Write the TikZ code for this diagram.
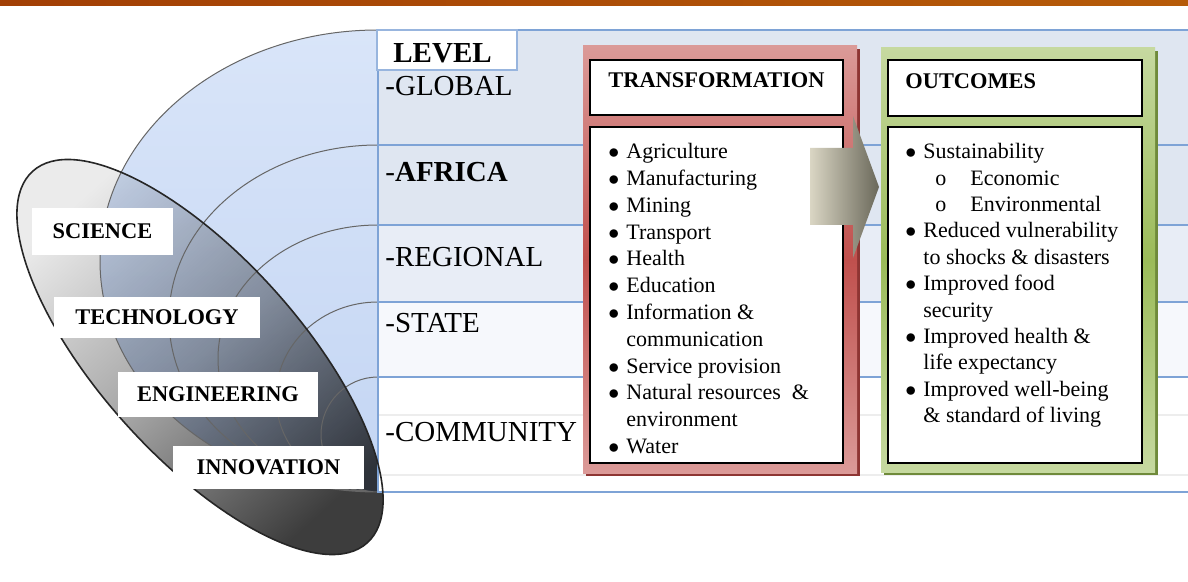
\documentclass[tikz,border=0pt]{standalone}
\usepackage{fontspec}
\setmainfont{Liberation Serif}
\definecolor{barl}{HTML}{A23F05}
\definecolor{barr}{HTML}{B65B08}
\definecolor{tblblue}{HTML}{7EA3D6}
\definecolor{rowa}{HTML}{DFE6F1}
\definecolor{rowb}{HTML}{E8EDF6}
\definecolor{rowc}{HTML}{F6F8FC}
\definecolor{fantop}{HTML}{D9E5F9}
\definecolor{fanbot}{HTML}{C3D5F3}
\definecolor{redl}{HTML}{DB9A98}
\definecolor{redd}{HTML}{C0504D}
\definecolor{redsh}{HTML}{8E3533}
\definecolor{grnl}{HTML}{C6D9A0}
\definecolor{grnd}{HTML}{9BBB59}
\definecolor{grnsh}{HTML}{6F8A3A}
\definecolor{arrl}{HTML}{DAD6C4}
\definecolor{arrd}{HTML}{6A685A}
\newcommand{\bul}{\makebox[9pt][l]{$\bullet$}}
\tikzset{
  tblline/.style={draw=tblblue, line width=0.8pt},
  arcline/.style={draw=black!60, line width=0.5pt},
  lvl/.style={anchor=base west, inner sep=0pt, font=\fontsize{14.5}{17}\selectfont},
  stemlabel/.style={fill=white, inner sep=0pt, font=\fontsize{11.2}{13}\selectfont\bfseries},
  inbox/.style={draw=black, fill=white, line width=0.6pt},
  boxtitle/.style={anchor=base west, inner sep=0pt, font=\fontsize{11.2}{13}\selectfont\bfseries},
  boxlist/.style={anchor=north west, inner sep=0pt, align=left, font=\fontsize{11}{13.4}\selectfont}
}
\begin{document}
\begin{tikzpicture}[x=0.5pt,y=-0.5pt]
\useasboundingbox (0,0) rectangle (1188,582);
\shade[left color=barl, right color=barr] (0,0) rectangle (1188,6);

\shade[top color=black!8, bottom color=black!76, middle color=black!36, shading angle=42, rotate around={-48:(200,357)}] (200,357) ellipse [x radius=250, y radius=100];

\begin{scope}[blend mode=multiply]
\shade[top color=fantop, bottom color=fanbot] (378,261) ellipse [x radius=278, y radius=231];
\end{scope}
\draw[arcline] (378,261) ellipse [x radius=278, y radius=231]
  (378,318.5) ellipse [x radius=209, y radius=173.5]
  (378,358.5) ellipse [x radius=160, y radius=133.5]
  (378,397) ellipse [x radius=102, y radius=95]
  (378,434.5) ellipse [x radius=57, y radius=57.5];

\fill[rowa] (378,30) rectangle (1188,225);
\fill[rowb] (378,225) rectangle (1188,302);
\fill[rowc] (378,302) rectangle (1188,377);
\fill[white] (378,377) rectangle (1188,492);
\draw[black!7, line width=0.6pt] (378,415) -- (1188,415) (378,475) -- (1188,475);
\draw[tblline] (1188,30) -- (378,30) -- (378,492) -- (1188,492);
\foreach \yy in {145,225,302,377}
  \draw[tblline] (378,\yy) -- (1188,\yy);

\draw[black!85, line width=0.8pt, rotate around={-48:(200,357)}] (200,357) ellipse [x radius=250, y radius=100];

\node[stemlabel, minimum width=70.5pt, minimum height=23.5pt] (science) at (102.5,231.5) {SCIENCE};
\node[stemlabel, minimum width=103pt, minimum height=20.5pt] (technology) at (157,317.5) {TECHNOLOGY};
\node[stemlabel, minimum width=100pt, minimum height=22.5pt] (engineering) at (218,394.5) {ENGINEERING};
\node[stemlabel, minimum width=95.5pt, minimum height=21.5pt] (innovation) at (268.5,467.5) {INNOVATION};

\draw[draw=tblblue!80, fill=white, line width=0.6pt] (377,30) rectangle (517,70);
\node[lvl, font=\fontsize{14.5}{17}\selectfont\bfseries] (level) at (393,63) {LEVEL};
\node[lvl] (global) at (385,96) {-GLOBAL};
\node[lvl] (africa) at (385,182) {-\textbf{AFRICA}};
\node[lvl] (regional) at (385,267) {-REGIONAL};
\node[lvl] (state) at (385,333) {-STATE};
\node[lvl] (community) at (385,442) {-COMMUNITY};

\fill[redsh] (586,49) rectangle (860,476);
\shade[top color=redl, bottom color=redl, middle color=redd] (583,46) rectangle (857,473);
\draw[inbox] (590,60) rectangle (843,115);
\draw[inbox] (590,127) rectangle (843,463);
\node[boxtitle] (trtitle) at (608,88) {TRANSFORMATION};
\node[boxlist] (trlist) at (608,143) {\bul Agriculture\\
  \bul Manufacturing\\
  \bul Mining\\
  \bul Transport\\
  \bul Health\\
  \bul Education\\
  \bul Information \&\\
  \hspace*{9pt}communication\\
  \bul Service provision\\
  \bul Natural resources\ \ \&\\
  \hspace*{9pt}environment\\
  \bul Water};

\shade[left color=arrl, right color=arrd] (810,148) -- (853,148) -- (853,116) -- (879,187)
  -- (853,258) -- (853,225) -- (810,225) -- cycle;

\fill[grnsh] (884,51) rectangle (1158,475);
\shade[top color=grnl, bottom color=grnl, middle color=grnd] (881,48) rectangle (1155,472);
\draw[inbox] (888,60) rectangle (1142,116);
\draw[inbox] (888,127) rectangle (1142,463);
\node[boxtitle] (outtitle) at (905,89) {OUTCOMES};
\node[boxlist, font=\fontsize{11}{13.2}\selectfont] (outlist) at (905,143) {\bul Sustainability\\
  \hspace*{15pt}\makebox[17.5pt][l]{o}Economic\\
  \hspace*{15pt}\makebox[17.5pt][l]{o}Environmental\\
  \bul Reduced vulnerability\\
  \hspace*{9pt}to shocks \& disasters\\
  \bul Improved food\\
  \hspace*{9pt}security\\
  \bul Improved health \&\\
  \hspace*{9pt}life expectancy\\
  \bul Improved well-being\\
  \hspace*{9pt}\& standard of living};
\end{tikzpicture}
\end{document}
